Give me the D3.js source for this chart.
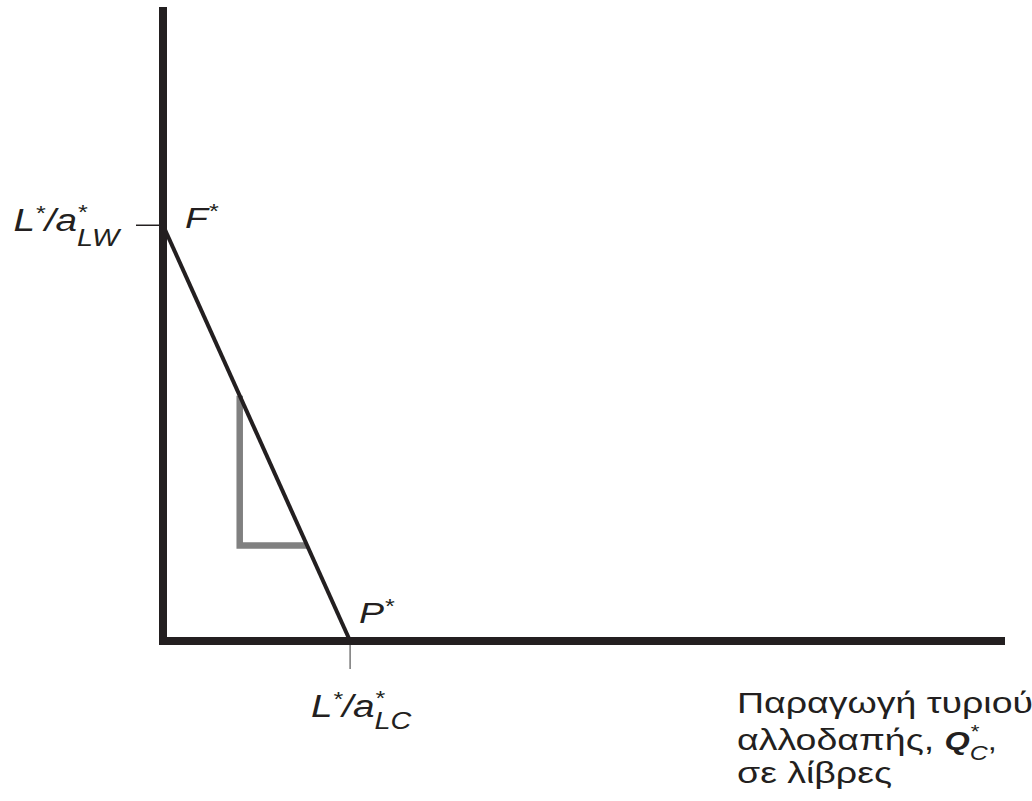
<!DOCTYPE html>
<html>
<head>
<meta charset="utf-8">
<script src="https://cdn.jsdelivr.net/npm/d3@7"></script>
<style>
  body { margin: 0; background: #fff; }
  text { font-family: "Liberation Sans", Arial, sans-serif; fill: #231f20; }
</style>
</head>
<body>
<div id="chart"></div>
<script>
// production possibility frontier of Foreign (cheese vs wine)
var ppfQ = [0, 10];          // cheese output
var ppfW = [10, 0];          // wine output
var cornerQ = 4.1, cornerW = 2.3;   // grey slope triangle corner
var xLabelLines = ["Παραγωγή τυριού", "αλλοδαπής,\u00a0", "σε λίβρες"];

var svg = d3.select("#chart")
  .append("svg")
  .attr("width", 1032)
  .attr("height", 801);

var x = d3.scaleLinear().domain([0, 45]).range([163, 1005]);
var y = d3.scaleLinear().domain([0, 15.25]).range([641, 7]);

var ink = "#231f20";
var stretch = 1.25;   // the original type is set wide

var slope = (ppfW[1] - ppfW[0]) / (ppfQ[1] - ppfQ[0]);
function onLineW(q) { return ppfW[0] + slope * (q - ppfQ[0]); }
function onLineQ(w) { return ppfQ[0] + (w - ppfW[0]) / slope; }

// grey triangle
var tri = [[cornerQ, onLineW(cornerQ)], [cornerQ, cornerW], [onLineQ(cornerW), cornerW]];
svg.append("path")
  .attr("d", d3.line().x(function(d) { return x(d[0]); }).y(function(d) { return y(d[1]); })(tri))
  .attr("fill", "none")
  .attr("stroke", "#808080")
  .attr("stroke-width", 6.5);

// tick marks
svg.append("line")
  .attr("x1", x(0) - 27).attr("x2", x(0))
  .attr("y1", y(ppfW[0])).attr("y2", y(ppfW[0]))
  .attr("stroke", ink).attr("stroke-width", 1.5);
svg.append("line")
  .attr("x1", x(ppfQ[1])).attr("x2", x(ppfQ[1]))
  .attr("y1", y(0)).attr("y2", y(0) + 28)
  .attr("stroke", "#777").attr("stroke-width", 1.5);

// frontier
svg.append("path")
  .datum(d3.zip(ppfQ, ppfW))
  .attr("d", d3.line().x(function(d) { return x(d[0]); }).y(function(d) { return y(d[1]); }))
  .attr("fill", "none")
  .attr("stroke", ink)
  .attr("stroke-width", 4);

// axes
svg.append("line")
  .attr("x1", x(0)).attr("x2", x(0))
  .attr("y1", y.range()[1]).attr("y2", y(0) + 4)
  .attr("stroke", ink).attr("stroke-width", 8);
svg.append("line")
  .attr("x1", x(0) - 4).attr("x2", x.range()[1])
  .attr("y1", y(0)).attr("y2", y(0))
  .attr("stroke", ink).attr("stroke-width", 8);

// one text with tspans; "stack" puts the next piece under the same x
function mathLabel(px, py, pieces, size, anchor) {
  var t = svg.append("text").attr("font-size", size);
  var back = 0, base = 0;
  pieces.forEach(function(p) {
    var off = p.dy || 0;
    var s = t.append("tspan")
      .attr("dy", off - base)
      .attr("font-size", p.size || size)
      .attr("font-style", p.italic === false ? "normal" : "italic")
      .attr("font-weight", p.bold ? "bold" : null)
      .text(p.t);
    base = off;
    if (back) s.attr("dx", -back);
    back = p.stack ? s.node().getComputedTextLength() : 0;
  });
  var w = anchor === "end" ? t.node().getBBox().width * stretch : 0;
  t.attr("transform", "translate(" + (px - w) + "," + py + ") scale(" + stretch + ",1)");
  return t;
}

mathLabel(122, 231, [
  {t: "L"}, {t: "*", size: 20, dy: -11}, {t: "/a"},
  {t: "*", size: 20, dy: -12, stack: true}, {t: "LW", size: 23, dy: 15}
], 31, "end");

mathLabel(185, 228, [{t: "F"}, {t: "*", size: 20, dy: -10}], 30);
mathLabel(359, 623, [{t: "P"}, {t: "*", size: 20, dy: -10}], 30);

mathLabel(311, 717, [
  {t: "L"}, {t: "*", size: 20, dy: -11}, {t: "/a"},
  {t: "*", size: 20, dy: -12, stack: true}, {t: "LC", size: 23, dy: 12}
], 31);

// x axis title
mathLabel(737, 713, [{t: xLabelLines[0], italic: false}], 30);
mathLabel(737, 750, [
  {t: xLabelLines[1], italic: false},
  {t: "Q", bold: true, size: 26},
  {t: "*", size: 18, dy: -12, stack: true}, {t: "C", size: 20, dy: 10},
  {t: ",", italic: false, size: 26, dy: 0}
], 30);
mathLabel(737, 783, [{t: xLabelLines[2], italic: false}], 30);
</script>
</body>
</html>
